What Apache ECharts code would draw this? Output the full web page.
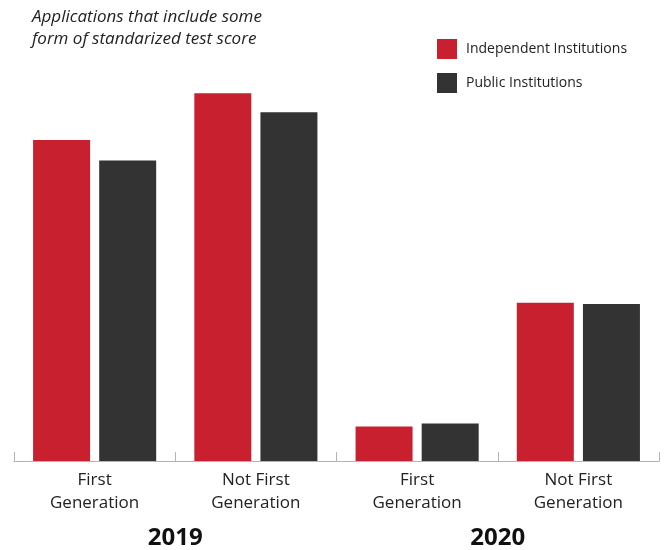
<!DOCTYPE html>
<html>
<head>
<meta charset="utf-8">
<script src="https://cdn.jsdelivr.net/npm/echarts@6/dist/echarts.min.js"></script>
<style>html,body{margin:0;padding:0;background:#fff}#c{width:667px;height:550px}</style>
</head>
<body>
<div id="c"></div>
<script>
var categories = ['First\nGeneration', 'Not First\nGeneration', 'First\nGeneration', 'Not First\nGeneration'];
var years = ['2019', '2020'];
var independent = [74.5, 85.3, 8.0, 36.7];
var publicInst = [69.7, 80.9, 8.7, 36.4];
var seriesNames = ['Independent Institutions', 'Public Institutions'];
var titleText = 'Applications that include some\nform of standarized test score';

var chart = echarts.init(document.getElementById('c'), null, {renderer: 'canvas'});
chart.setOption({
  animation: false,
  backgroundColor: '#ffffff',
  title: {
    text: titleText,
    left: 32,
    top: 6,
    padding: 0,
    textStyle: {fontFamily: 'Open Sans', fontStyle: 'italic', fontWeight: 'normal', fontSize: 17, lineHeight: 22, color: '#222222'}
  },
  legend: {
    orient: 'vertical',
    left: 437,
    top: 39,
    padding: 0,
    itemWidth: 20,
    itemHeight: 20,
    itemGap: 14,
    icon: 'rect',
    textStyle: {fontFamily: 'Open Sans', fontSize: 14, color: '#222222', padding: [0, 0, 0, 4]},
    data: seriesNames
  },
  grid: {left: 14, right: 8, top: 30, bottom: 88, containLabel: false},
  xAxis: [{
    type: 'category',
    data: categories,
    position: 'bottom',
    axisLine: {show: true, lineStyle: {color: '#b3b3b3', width: 1}},
    axisTick: {show: true, inside: true, length: 9, lineStyle: {color: '#b3b3b3'}},
    axisLabel: {fontFamily: 'Open Sans', fontSize: 17, lineHeight: 22.5, color: '#222222', margin: 8}
  }, {
    type: 'category',
    data: years,
    position: 'bottom',
    offset: 0,
    axisLine: {show: false},
    axisTick: {show: false},
    axisLabel: {fontFamily: 'Open Sans', fontWeight: 'bold', fontSize: 24, color: '#111111', margin: 65}
  }],
  yAxis: {type: 'value', min: 0, max: 100, show: false},
  series: [{
    name: seriesNames[0],
    type: 'bar',
    data: independent,
    barWidth: 57,
    barGap: '16%',
    itemStyle: {color: '#c8202f'}
  }, {
    name: seriesNames[1],
    type: 'bar',
    data: publicInst,
    barWidth: 57,
    barGap: '16%',
    itemStyle: {color: '#333333'}
  }]
});
</script>
</body>
</html>
